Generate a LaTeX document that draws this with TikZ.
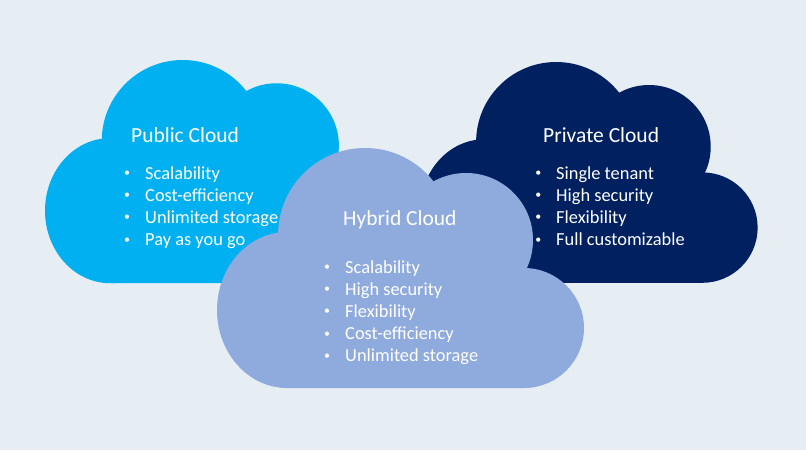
\documentclass[tikz,border=0pt]{standalone}
\usepackage{fontspec}
\setmainfont{Carlito}
\usepackage{tikz}
\usetikzlibrary{positioning}
\definecolor{pagebg}{HTML}{E7EEF3}
\definecolor{publicblue}{HTML}{00B0F0}
\definecolor{privateblue}{HTML}{002060}
\definecolor{hybridblue}{HTML}{8FAADC}
\newcommand{\bul}{\llap{\raisebox{2.5pt}{\scalebox{0.65}{\textbullet}}\hspace{15pt}}}
\tikzset{
  cloudshape/.pic={
    \fill (70,162) ellipse[x radius=70,y radius=78];
    \fill (148,87) circle[radius=87];
    \fill (249,92) circle[radius=67];
    \fill (307,180) circle[radius=60];
    \fill (70,162) -- (148,87) -- (249,92) -- (307,180) -- (307,240) -- (70,240) -- cycle;
  },
  cloudtitle/.style={anchor=base west,inner sep=0pt,text=white,font=\fontsize{21.5}{26}\selectfont},
  cloudbullet/.style={anchor=base west,inner sep=0pt,text=white,font=\fontsize{18.4}{22}\selectfont},
}

\begin{document}
\begin{tikzpicture}[x=1pt,y=-1pt]
\fill[pagebg] (0,0) rectangle (806,450);
\useasboundingbox (0,0) rectangle (806,450);
% public cloud
\pic[fill=publicblue,scale=0.93] at (45,60) {cloudshape};
\node[cloudtitle] (pub-title) at (131,142) {Public Cloud};
\foreach \txt [count=\i from 0] in {Scalability,Cost-efficiency,Unlimited storage,Pay as you go}
  \node[cloudbullet] (pub-\i) at (145,179+22.2*\i) {\bul\txt};
% private cloud
\pic[fill=privateblue,scale=0.92] at (420,62) {cloudshape};
\node[cloudtitle] (priv-title) at (543,142) {Private Cloud};
\foreach \txt [count=\i from 0] in {Single tenant,High security,Flexibility,Full customizable}
  \node[cloudbullet] (priv-\i) at (556,179+22.2*\i) {\bul\txt};
% hybrid cloud
\pic[fill=hybridblue] at (217,148) {cloudshape};
\node[cloudtitle] (hyb-title) at (343,225) {Hybrid Cloud};
\foreach \txt [count=\i from 0] in {Scalability,High security,Flexibility,Cost-efficiency,Unlimited storage}
  \node[cloudbullet] (hyb-\i) at (345,273+22.2*\i) {\bul\txt};
\end{tikzpicture}
\end{document}
